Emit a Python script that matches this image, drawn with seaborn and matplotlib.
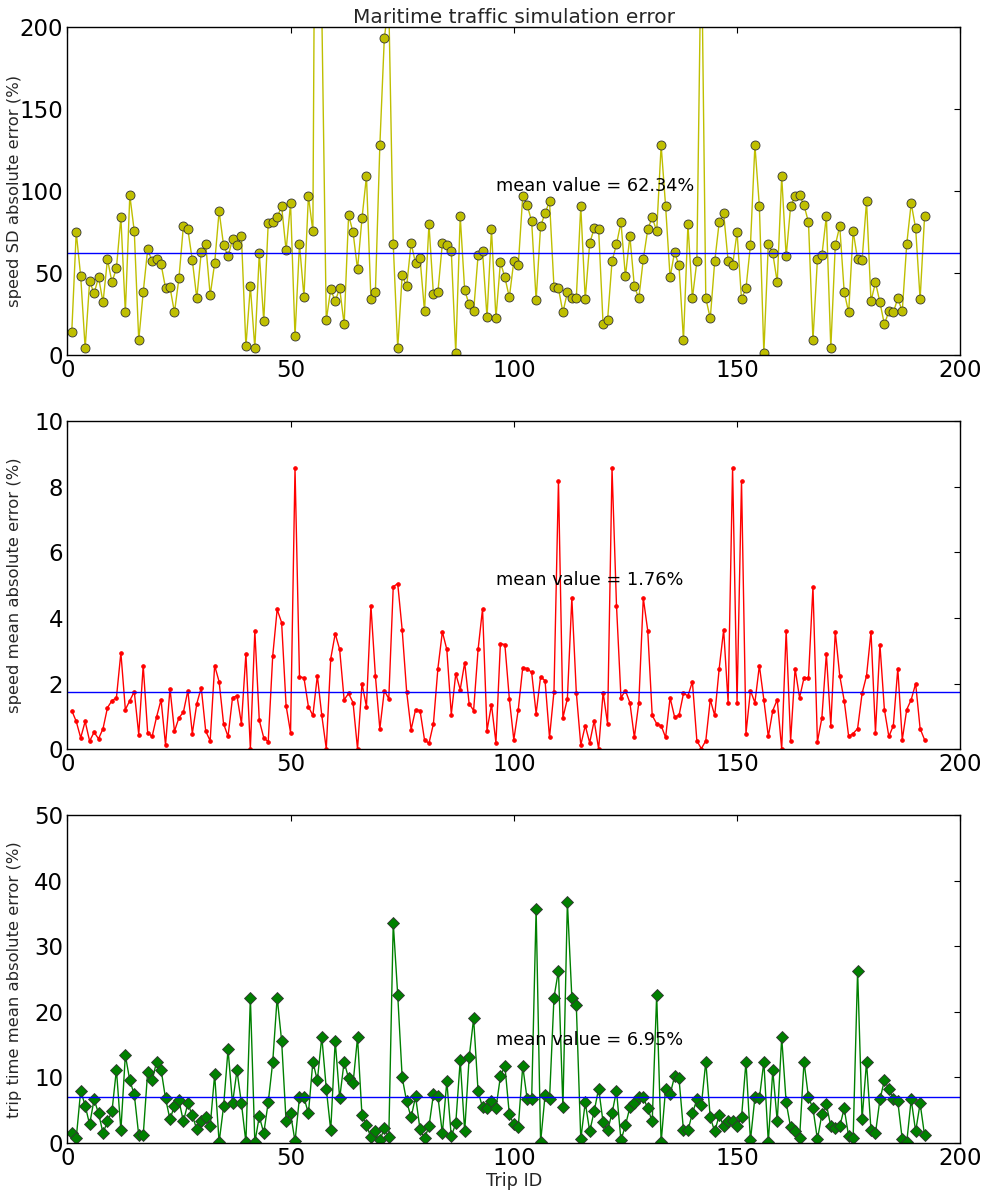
import matplotlib
matplotlib.use("Agg")
import matplotlib.pyplot as plt
import pandas as pd
import seaborn as sns

trip_ids = list(range(1, 193))

speed_sd_error = [
    14.0, 74.9, 48.0, 4.1, 45.0, 37.6, 47.4, 32.2, 58.4, 44.4,
    52.9, 84.0, 26.0, 97.5, 75.5, 9.0, 38.3, 64.5, 57.2, 58.4,
    55.4, 40.9, 41.3, 26.0, 46.8, 78.6, 76.7, 57.8, 34.6, 62.7,
    67.6, 36.4, 56.0, 87.7, 67.0, 60.2, 70.6, 67.0, 72.4, 5.3,
    41.9, 4.1, 62.1, 20.6, 80.4, 81.0, 84.0, 90.8, 63.9, 92.6,
    11.4, 67.6, 35.4, 97.1, 75.5, 560.0, 210.0, 21.2, 40.1, 32.8,
    40.7, 18.7, 85.3, 74.9, 52.3, 83.4, 109.1, 34.0, 38.3, 128.0,
    193.3, 215.0, 67.6, 4.1, 48.6, 41.9, 68.2, 56.0, 59.0, 26.7,
    79.8, 37.0, 38.3, 68.2, 67.0, 63.3, 1.2, 84.7, 39.5, 30.9,
    26.7, 60.8, 63.3, 23.0, 76.7, 22.4, 56.6, 47.4, 35.2, 57.2,
    54.7, 96.9, 91.4, 81.6, 33.4, 78.6, 86.5, 93.8, 41.3, 40.7,
    26.0, 38.3, 34.8, 34.8, 90.8, 34.0, 68.2, 77.3, 76.7, 18.7,
    21.2, 57.2, 67.6, 81.0, 48.0, 72.4, 41.9, 34.6, 58.4, 76.7,
    84.0, 75.5, 128.0, 90.8, 47.4, 62.7, 54.7, 9.0, 79.8, 34.6,
    57.2, 260.0, 34.6, 22.4, 57.2, 81.0, 86.5, 57.2, 54.7, 74.9,
    34.0, 40.7, 67.0, 128.0, 90.8, 1.2, 67.6, 62.1, 44.4, 109.1,
    60.2, 90.8, 96.9, 97.5, 91.4, 81.0, 9.0, 58.4, 60.8, 84.7,
    4.1, 67.0, 78.6, 38.3, 26.0, 75.5, 58.4, 57.8, 93.8, 32.8,
    44.4, 32.2, 18.7, 26.7, 26.0, 34.6, 26.7, 67.6, 92.6, 77.3, 34.0, 84.7,
]

speed_mean_error = [
    1.18, 0.85, 0.35, 0.85, 0.25, 0.52, 0.32, 0.63, 1.27, 1.48,
    1.57, 2.94, 1.21, 1.48, 1.76, 0.45, 2.55, 0.51, 0.39, 0.99,
    1.51, 0.13, 1.85, 0.55, 0.96, 1.13, 1.79, 0.48, 1.39, 1.88,
    0.55, 0.26, 2.55, 2.06, 0.78, 0.39, 1.57, 1.63, 0.78, 2.91,
    0.02, 3.61, 0.88, 0.35, 0.23, 2.83, 4.26, 3.86, 1.33, 0.51,
    8.56, 2.21, 2.18, 1.30, 1.03, 2.24, 1.03, 0.02, 2.76, 3.52,
    3.04, 1.51, 1.70, 1.42, 0.01, 2.00, 1.30, 4.38, 2.24, 0.62,
    1.79, 1.54, 4.95, 5.05, 3.64, 1.76, 0.60, 1.21, 1.18, 0.29,
    0.18, 0.78, 2.46, 3.58, 3.04, 1.06, 2.30, 1.82, 2.64, 1.39,
    1.18, 3.04, 4.28, 0.57, 1.36, 0.20, 3.22, 3.19, 1.54, 0.29,
    1.21, 2.49, 2.46, 2.34, 1.09, 2.21, 2.09, 0.36, 1.76, 8.18,
    0.96, 1.54, 4.61, 1.73, 0.13, 0.72, 0.20, 0.87, 0.01, 1.73,
    0.78, 8.56, 4.38, 1.57, 1.79, 1.42, 0.36, 1.42, 4.61, 3.61,
    1.03, 0.78, 0.72, 0.36, 1.57, 0.99, 1.03, 1.70, 1.63, 2.06,
    0.26, 0.02, 0.26, 1.51, 1.03, 2.46, 3.64, 1.42, 8.56, 1.42,
    8.18, 0.48, 1.79, 1.42, 2.55, 1.51, 0.39, 1.18, 1.51, 0.01,
    3.61, 0.26, 2.46, 1.57, 2.18, 2.18, 4.95, 0.23, 0.96, 2.91,
    0.72, 3.58, 2.24, 1.48, 0.39, 0.48, 0.63, 1.70, 2.24, 3.58,
    0.51, 3.19, 1.21, 0.39, 0.72, 2.46, 0.29, 1.21, 1.51, 2.00, 0.63, 0.29,
]

trip_time_error = [
    1.52, 0.71, 8.0, 5.7, 2.84, 6.65, 4.52, 1.52, 3.3, 4.82,
    11.2, 1.93, 13.4, 9.54, 7.41, 1.17, 1.17, 10.9, 9.54, 12.4,
    11.2, 6.8, 3.6, 5.7, 6.5, 3.3, 6.04, 4.2, 2.08, 3.3,
    3.9, 2.54, 10.46, 0.1, 5.58, 14.3, 6.04, 11.07, 6.04, 0.1,
    22.2, 0.1, 4.06, 1.52, 6.2, 12.3, 22.2, 15.6, 3.3, 4.52,
    0.25, 6.95, 6.95, 4.52, 12.4, 9.54, 16.2, 8.3, 1.93, 15.6,
    6.8, 12.4, 9.85, 9.1, 16.1, 4.2, 2.7, 0.86, 1.78, 0.41,
    2.23, 0.86, 33.6, 22.6, 10.0, 6.35, 3.9, 7.1, 2.08, 0.71,
    2.54, 7.41, 7.1, 1.47, 9.4, 1.0, 3.0, 12.6, 1.78, 13.05,
    19.0, 7.87, 5.43, 5.28, 6.35, 5.28, 10.15, 11.8, 4.37, 2.84,
    2.39, 11.7, 6.65, 6.65, 35.7, 0.1, 7.26, 6.65, 22.2, 26.3,
    5.43, 36.8, 22.2, 21.0, 0.56, 6.2, 1.78, 4.82, 8.3, 3.15,
    1.93, 4.52, 8.0, 0.41, 2.7, 5.43, 6.04, 6.95, 6.95, 5.28,
    3.3, 22.6, 0.1, 8.3, 7.41, 10.15, 9.85, 1.93, 1.93, 4.52,
    6.65, 5.74, 12.4, 3.9, 1.78, 4.2, 2.54, 3.3, 3.3, 2.54,
    3.9, 12.4, 0.41, 6.95, 6.8, 12.4, 0.1, 11.07, 3.3, 16.1,
    6.2, 2.39, 1.78, 0.71, 12.4, 6.95, 5.28, 0.56, 4.37, 5.89,
    2.54, 2.23, 2.54, 5.28, 1.0, 0.71, 26.3, 3.6, 12.4, 1.93,
    1.47, 6.65, 9.54, 8.3, 6.65, 6.35, 0.56, 0.1, 6.65, 1.78, 6.04, 1.17,
]

mean_values = [62.34, 1.76, 6.95]
mean_text_y = [100, 5, 15]
mean_text_x = 96
y_labels = ["speed SD absolute error (%)",
            "speed mean absolute error (%)",
            "trip time mean absolute error (%)"]
y_limits = [200, 10, 50]
y_steps = [50, 2, 10]
x_ticks = [0, 50, 100, 150, 200]
title = "Maritime traffic simulation error"
x_label = "Trip ID"

sns.set_style("white")
plt.rcParams["font.family"] = ["DejaVu Sans"]

fig = plt.figure(figsize=(9.84, 11.96), dpi=100)
fig.patch.set_facecolor("white")

W, H = 984.0, 1196.0
left_px, right_px = 67.3, 960.3
panels_px = [(27.3, 355.0), (421.0, 749.3), (815.3, 1143.0)]

series = [speed_sd_error, speed_mean_error, trip_time_error]
styles = [
    dict(color=(0.75, 0.75, 0.0), marker="o", markersize=6.5,
         markeredgecolor="#333333", markeredgewidth=0.6,
         markerfacecolor=(0.75, 0.75, 0.0)),
    dict(color=(1.0, 0.0, 0.0), marker=".", markersize=5,
         markeredgecolor=(1.0, 0.0, 0.0), markeredgewidth=0.8,
         markerfacecolor=(1.0, 0.0, 0.0)),
    dict(color=(0.0, 0.5, 0.0), marker="D", markersize=6,
         markeredgecolor="#333333", markeredgewidth=0.6,
         markerfacecolor=(0.0, 0.5, 0.0)),
]

for k in range(3):
    top_px, bot_px = panels_px[k]
    ax = fig.add_axes([left_px / W, 1 - bot_px / H,
                       (right_px - left_px) / W, (bot_px - top_px) / H])
    df = pd.DataFrame({"trip": trip_ids, "err": series[k]})
    sns.lineplot(data=df, x="trip", y="err", ax=ax, linewidth=1.0,
                 estimator=None, sort=False, **styles[k])
    ax.axhline(mean_values[k], color=(0.0, 0.0, 1.0), linewidth=1.0)
    ax.text(mean_text_x, mean_text_y[k], "mean value = %.2f%%" % mean_values[k],
            fontsize=12.8, color="black")
    ax.set_xlim(0, 200)
    ax.set_ylim(0, y_limits[k])
    ax.set_xticks(x_ticks)
    ax.set_yticks([y_steps[k] * j for j in range(int(y_limits[k] / y_steps[k]) + 1)])
    ax.tick_params(direction="in", length=4, width=0.8, top=True, right=True,
                   labelsize=16.5, pad=3, colors="black")
    for s in ax.spines.values():
        s.set_visible(True)
        s.set_color("black")
        s.set_linewidth(1.0)
    ax.set_ylabel(y_labels[k], fontsize=11.8)
    ax.yaxis.set_label_coords(-0.051, 0.5)
    if k == 2:
        ax.set_xlabel(x_label, fontsize=12.8, labelpad=1)
    else:
        ax.set_xlabel("")
    if k == 0:
        ax.set_title(title, fontsize=14.5, pad=3)

fig.savefig("out.png", dpi=100, facecolor="white")
